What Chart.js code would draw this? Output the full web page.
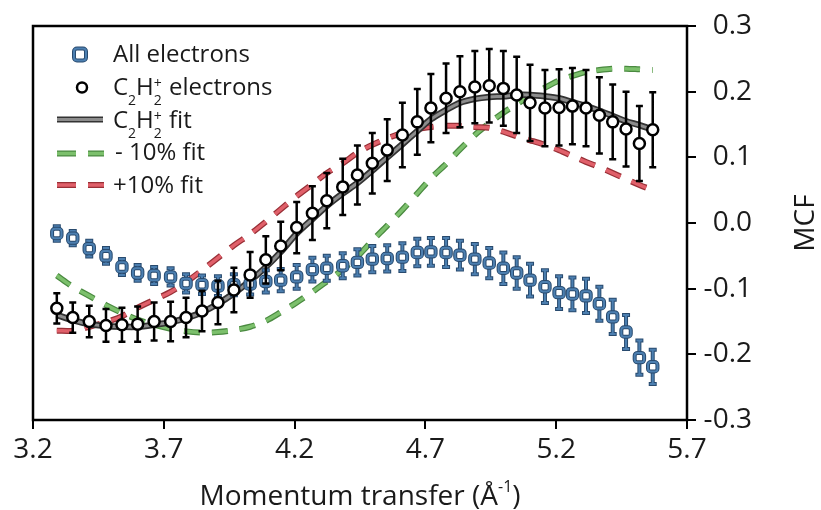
<!DOCTYPE html>
<html>
<head>
<meta charset="utf-8">
<script src="https://cdn.jsdelivr.net/npm/chart.js@4.4.0/dist/chart.umd.min.js"></script>
<style>
  body { margin: 0; background: #fff; }
  #wrap { width: 821px; height: 510px; }
</style>
</head>
<body>
<div id="wrap"><canvas id="mcfChart"></canvas></div>
<script>
// momentum transfer (1/Å) of each measured point
const momentum = [3.291, 3.352, 3.415, 3.479, 3.540, 3.600, 3.663, 3.726, 3.785, 3.846,
                  3.907, 3.968, 4.030, 4.090, 4.147, 4.208, 4.268, 4.323, 4.384, 4.440,
                  4.497, 4.554, 4.612, 4.669, 4.721, 4.779, 4.832, 4.889, 4.944, 4.998,
                  5.049, 5.100, 5.157, 5.211, 5.262, 5.314, 5.365, 5.416, 5.467, 5.518, 5.569];

const allElectrons = [-0.016, -0.023, -0.039, -0.050, -0.067, -0.076, -0.080, -0.082, -0.092, -0.094,
                      -0.096, -0.094, -0.093, -0.089, -0.087, -0.082, -0.071, -0.069, -0.065, -0.060,
                      -0.055, -0.054, -0.052, -0.045, -0.044, -0.045, -0.049, -0.055, -0.061, -0.069,
                      -0.076, -0.087, -0.097, -0.106, -0.108, -0.111, -0.123, -0.143, -0.166, -0.205, -0.219];
const allElectronsErr = [0.011, 0.011, 0.012, 0.012, 0.012, 0.012, 0.013, 0.013, 0.014, 0.014,
                         0.015, 0.016, 0.016, 0.017, 0.017, 0.018, 0.018, 0.019, 0.019, 0.020,
                         0.020, 0.020, 0.021, 0.021, 0.021, 0.022, 0.022, 0.023, 0.023, 0.024,
                         0.024, 0.025, 0.025, 0.025, 0.025, 0.026, 0.026, 0.026, 0.026, 0.026, 0.026];

const c2h2Electrons = [-0.130, -0.144, -0.150, -0.156, -0.155, -0.154, -0.150, -0.150, -0.144, -0.134,
                       -0.121, -0.102, -0.079, -0.056, -0.035, -0.007, 0.015, 0.034, 0.055, 0.073,
                       0.091, 0.111, 0.134, 0.154, 0.175, 0.190, 0.200, 0.207, 0.209, 0.205,
                       0.195, 0.183, 0.175, 0.176, 0.178, 0.175, 0.164, 0.154, 0.143, 0.121, 0.142];
const c2h2Err = [0.023, 0.023, 0.024, 0.025, 0.026, 0.027, 0.029, 0.030, 0.030, 0.031,
                 0.033, 0.034, 0.035, 0.036, 0.037, 0.039, 0.041, 0.042, 0.043, 0.045,
                 0.046, 0.047, 0.049, 0.050, 0.052, 0.053, 0.054, 0.055, 0.056, 0.057,
                 0.058, 0.058, 0.058, 0.058, 0.058, 0.058, 0.058, 0.057, 0.057, 0.057, 0.057];

const c2h2Fit = [-0.140, -0.148, -0.154, -0.157, -0.158, -0.158, -0.155, -0.151, -0.145, -0.136,
                 -0.123, -0.107, -0.088, -0.067, -0.044, -0.016, 0.006, 0.026, 0.045, 0.061,
                 0.080, 0.100, 0.120, 0.140, 0.158, 0.172, 0.183, 0.189, 0.192, 0.193,
                 0.195, 0.195, 0.193, 0.190, 0.184, 0.178, 0.171, 0.163, 0.155, 0.149, 0.142];
const fitMinus10 = [-0.080, -0.097, -0.111, -0.125, -0.137, -0.147, -0.155, -0.161, -0.165, -0.167,
                    -0.166, -0.163, -0.158, -0.149, -0.136, -0.121, -0.105, -0.089, -0.071, -0.051,
                    -0.027, -0.004, 0.020, 0.045, 0.068, 0.090, 0.112, 0.134, 0.152, 0.168,
                    0.181, 0.193, 0.206, 0.217, 0.224, 0.230, 0.233, 0.235, 0.235, 0.234, 0.233];
const fitPlus10 = [-0.164, -0.164, -0.158, -0.151, -0.142, -0.129, -0.117, -0.105, -0.090, -0.072,
                   -0.053, -0.034, -0.017, 0.002, 0.021, 0.041, 0.059, 0.076, 0.091, 0.107,
                   0.119, 0.129, 0.137, 0.143, 0.146, 0.148, 0.148, 0.146, 0.145, 0.139,
                   0.132, 0.126, 0.119, 0.111, 0.102, 0.093, 0.085, 0.076, 0.067, 0.058, 0.050];

const xTicks = [3.2, 3.7, 4.2, 4.7, 5.2, 5.7];
const yTicks = [0.3, 0.2, 0.1, 0.0, -0.1, -0.2, -0.3];

const FONT = '"Open Sans", "DejaVu Sans", sans-serif';
const BLUE = '#4c7fb0', BLUE_EDGE = '#284a6e';
const GREEN = '#7cc06c', GREEN_EDGE = '#4a8a40';
const RED = '#e0606a', RED_EDGE = '#982f36';
const GREY = '#8c8c8c', GREY_EDGE = '#333333';
const DASH = [16, 12];

const pts = ys => momentum.map((x, i) => ({ x: x, y: ys[i] }));

// vertical error bars, drawn just before the markers of their dataset
const errorBars = {
  id: 'errorBars',
  beforeDatasetDraw(chart, args) {
    const ds = chart.data.datasets[args.index];
    if (!ds.errors) return;
    const ctx = chart.ctx, xs = chart.scales.x, ys = chart.scales.y;
    ctx.save();
    ds.errStrokes.forEach(st => {
      ctx.strokeStyle = st.color;
      ctx.lineWidth = st.width;
      ctx.beginPath();
      ds.data.forEach((p, i) => {
        const px = xs.getPixelForValue(p.x);
        const top = ys.getPixelForValue(p.y + ds.errors[i]);
        const bot = ys.getPixelForValue(p.y - ds.errors[i]);
        ctx.moveTo(px, top); ctx.lineTo(px, bot);
        ctx.moveTo(px - st.cap, top); ctx.lineTo(px + st.cap, top);
        ctx.moveTo(px - st.cap, bot); ctx.lineTo(px + st.cap, bot);
      });
      ctx.stroke();
    });
    ctx.restore();
  }
};

// draws text pieces in a row; sub/sup pieces are smaller and shifted
function richText(ctx, parts, x, y, measureOnly) {
  let cx = x;
  parts.forEach(p => {
    ctx.font = p.size + 'px ' + FONT;
    if (!measureOnly) ctx.fillText(p.t, cx, y + (p.dy || 0));
    if (!p.stack) cx += ctx.measureText(p.t).width + (p.gap || 0);
  });
  return cx - x;
}

const frameAndText = {
  id: 'frameAndText',
  afterDatasetsDraw(chart) {
    const { ctx, chartArea: a } = chart;
    ctx.save();
    ctx.strokeStyle = '#000';
    ctx.lineWidth = 2.5;
    ctx.strokeRect(a.left, a.top, a.right - a.left, a.bottom - a.top);
    ctx.restore();
  },
  afterDraw(chart) {
    const ctx = chart.ctx;
    ctx.save();
    ctx.fillStyle = '#1a1a1a';
    ctx.textBaseline = 'alphabetic';
    ctx.textAlign = 'left';

    // legend: All electrons
    ctx.lineWidth = 4; ctx.strokeStyle = BLUE_EDGE; ctx.fillStyle = '#fff';
    ctx.beginPath(); ctx.roundRect(74, 48.5, 12, 12, 3); ctx.fill(); ctx.stroke();
    ctx.lineWidth = 2; ctx.strokeStyle = BLUE;
    ctx.beginPath(); ctx.roundRect(74, 48.5, 12, 12, 3); ctx.stroke();
    ctx.fillStyle = '#1a1a1a';
    richText(ctx, [{ t: 'All electrons', size: 24 }], 113, 62);

    // legend: C2H2+ electrons
    ctx.lineWidth = 2.5; ctx.strokeStyle = '#000'; ctx.fillStyle = '#fff';
    ctx.beginPath(); ctx.arc(82, 87.5, 5, 0, Math.PI * 2); ctx.fill(); ctx.stroke();
    ctx.fillStyle = '#1a1a1a';
    const ion = [
      { t: 'C', size: 24 }, { t: '2', size: 14, dy: 10 },
      { t: 'H', size: 24 }, { t: '2', size: 14, dy: 10, stack: true }, { t: '+', size: 14, dy: -7, gap: 1 }
    ];
    richText(ctx, ion.concat([{ t: ' electrons', size: 24 }]), 113, 95);

    // legend: fit line
    ctx.lineCap = 'butt';
    ctx.strokeStyle = GREY_EDGE; ctx.lineWidth = 6;
    ctx.beginPath(); ctx.moveTo(57, 119.5); ctx.lineTo(103, 119.5); ctx.stroke();
    ctx.strokeStyle = GREY; ctx.lineWidth = 3;
    ctx.beginPath(); ctx.moveTo(57, 119.5); ctx.lineTo(103, 119.5); ctx.stroke();
    richText(ctx, ion.concat([{ t: ' fit', size: 24 }]), 113, 128);

    // legend: dashed fits
    [[GREEN_EDGE, GREEN, 153.5, '- 10% fit', 115, 160], [RED_EDGE, RED, 185, '+10% fit', 113, 193]].forEach(r => {
      ctx.setLineDash([19, 12]);
      ctx.strokeStyle = r[0]; ctx.lineWidth = 6;
      ctx.beginPath(); ctx.moveTo(57, r[2]); ctx.lineTo(104, r[2]); ctx.stroke();
      ctx.strokeStyle = r[1]; ctx.lineWidth = 3.5;
      ctx.beginPath(); ctx.moveTo(57, r[2]); ctx.lineTo(104, r[2]); ctx.stroke();
      ctx.setLineDash([]);
      richText(ctx, [{ t: r[3], size: 24 }], r[4], r[5]);
    });

    // axis titles
    const xTitle = [
      { t: 'Momentum transfer (Å', size: 28 },
      { t: '-1', size: 16, dy: -13 },
      { t: ')', size: 28 }
    ];
    const w = richText(ctx, xTitle, 0, 0, true);
    const a = chart.chartArea;
    richText(ctx, xTitle, (a.left + a.right) / 2 - w / 2, 505);

    ctx.translate(814, (a.top + a.bottom) / 2);
    ctx.rotate(-Math.PI / 2);
    ctx.textAlign = 'center';
    ctx.font = '28px ' + FONT;
    ctx.fillText('MCF', 0, 0);
    ctx.restore();
  }
};

const fixedTicks = list => scale => { scale.ticks = list.map(v => ({ value: v })); };

new Chart(document.getElementById('mcfChart'), {
  type: 'line',
  data: {
    datasets: [
      { data: pts(fitMinus10), borderColor: GREEN_EDGE, borderWidth: 6, borderDash: DASH, pointRadius: 0, tension: 0.3, order: 10 },
      { data: pts(fitMinus10), borderColor: GREEN, borderWidth: 3.5, borderDash: DASH, pointRadius: 0, tension: 0.3, order: 9 },
      { data: pts(fitPlus10), borderColor: RED_EDGE, borderWidth: 6, borderDash: DASH, pointRadius: 0, tension: 0.3, order: 8 },
      { data: pts(fitPlus10), borderColor: RED, borderWidth: 3.5, borderDash: DASH, pointRadius: 0, tension: 0.3, order: 7 },
      { data: pts(c2h2Fit), borderColor: GREY_EDGE, borderWidth: 6.5, pointRadius: 0, tension: 0.3, order: 6 },
      { data: pts(c2h2Fit), borderColor: GREY, borderWidth: 3, pointRadius: 0, tension: 0.3, order: 5 },
      {
        data: pts(allElectrons), showLine: false, order: 4,
        pointStyle: 'rectRounded', pointRadius: 5.5, pointBorderWidth: 4,
        pointBorderColor: BLUE_EDGE, pointBackgroundColor: '#fff',
        errors: allElectronsErr,
        errStrokes: [{ color: BLUE_EDGE, width: 4, cap: 4 }, { color: BLUE, width: 2, cap: 3 }]
      },
      {
        data: pts(allElectrons), showLine: false, order: 3,
        pointStyle: 'rectRounded', pointRadius: 5.5, pointBorderWidth: 2,
        pointBorderColor: BLUE, pointBackgroundColor: 'rgba(0,0,0,0)'
      },
      {
        data: pts(c2h2Electrons), showLine: false, order: 2,
        pointStyle: 'circle', pointRadius: 5.5, pointBorderWidth: 2.5,
        pointBorderColor: '#000', pointBackgroundColor: '#fff',
        errors: c2h2Err,
        errStrokes: [{ color: '#000', width: 2.5, cap: 3.5 }]
      }
    ]
  },
  options: {
    responsive: true,
    maintainAspectRatio: false,
    animation: false,
    events: [],
    // right padding leaves room for the rotated MCF title
    layout: { padding: { left: 33, top: 26, right: 69, bottom: 0 } },
    plugins: { legend: { display: false }, tooltip: { enabled: false } },
    scales: {
      x: {
        type: 'linear', min: 3.2, max: 5.7,
        afterBuildTicks: fixedTicks(xTicks),
        afterFit: s => { s.height = 90; },
        border: { display: false },
        grid: { drawOnChartArea: false, drawTicks: true, tickLength: 9, color: '#000', lineWidth: 2 },
        ticks: { color: '#1a1a1a', font: { family: FONT, size: 28 }, padding: 4, maxRotation: 0,
                 callback: v => v.toFixed(1) }
      },
      y: {
        type: 'linear', position: 'right', min: -0.3, max: 0.3,
        afterBuildTicks: fixedTicks(yTicks),
        afterFit: s => { s.width = 65; },
        border: { display: false },
        grid: { drawOnChartArea: false, drawTicks: true, tickLength: 9, color: '#000', lineWidth: 2 },
        ticks: { color: '#1a1a1a', font: { family: FONT, size: 28 }, padding: 4, crossAlign: 'far',
                 callback: v => v.toFixed(1) }
      }
    }
  },
  plugins: [errorBars, frameAndText]
});
</script>
</body>
</html>
